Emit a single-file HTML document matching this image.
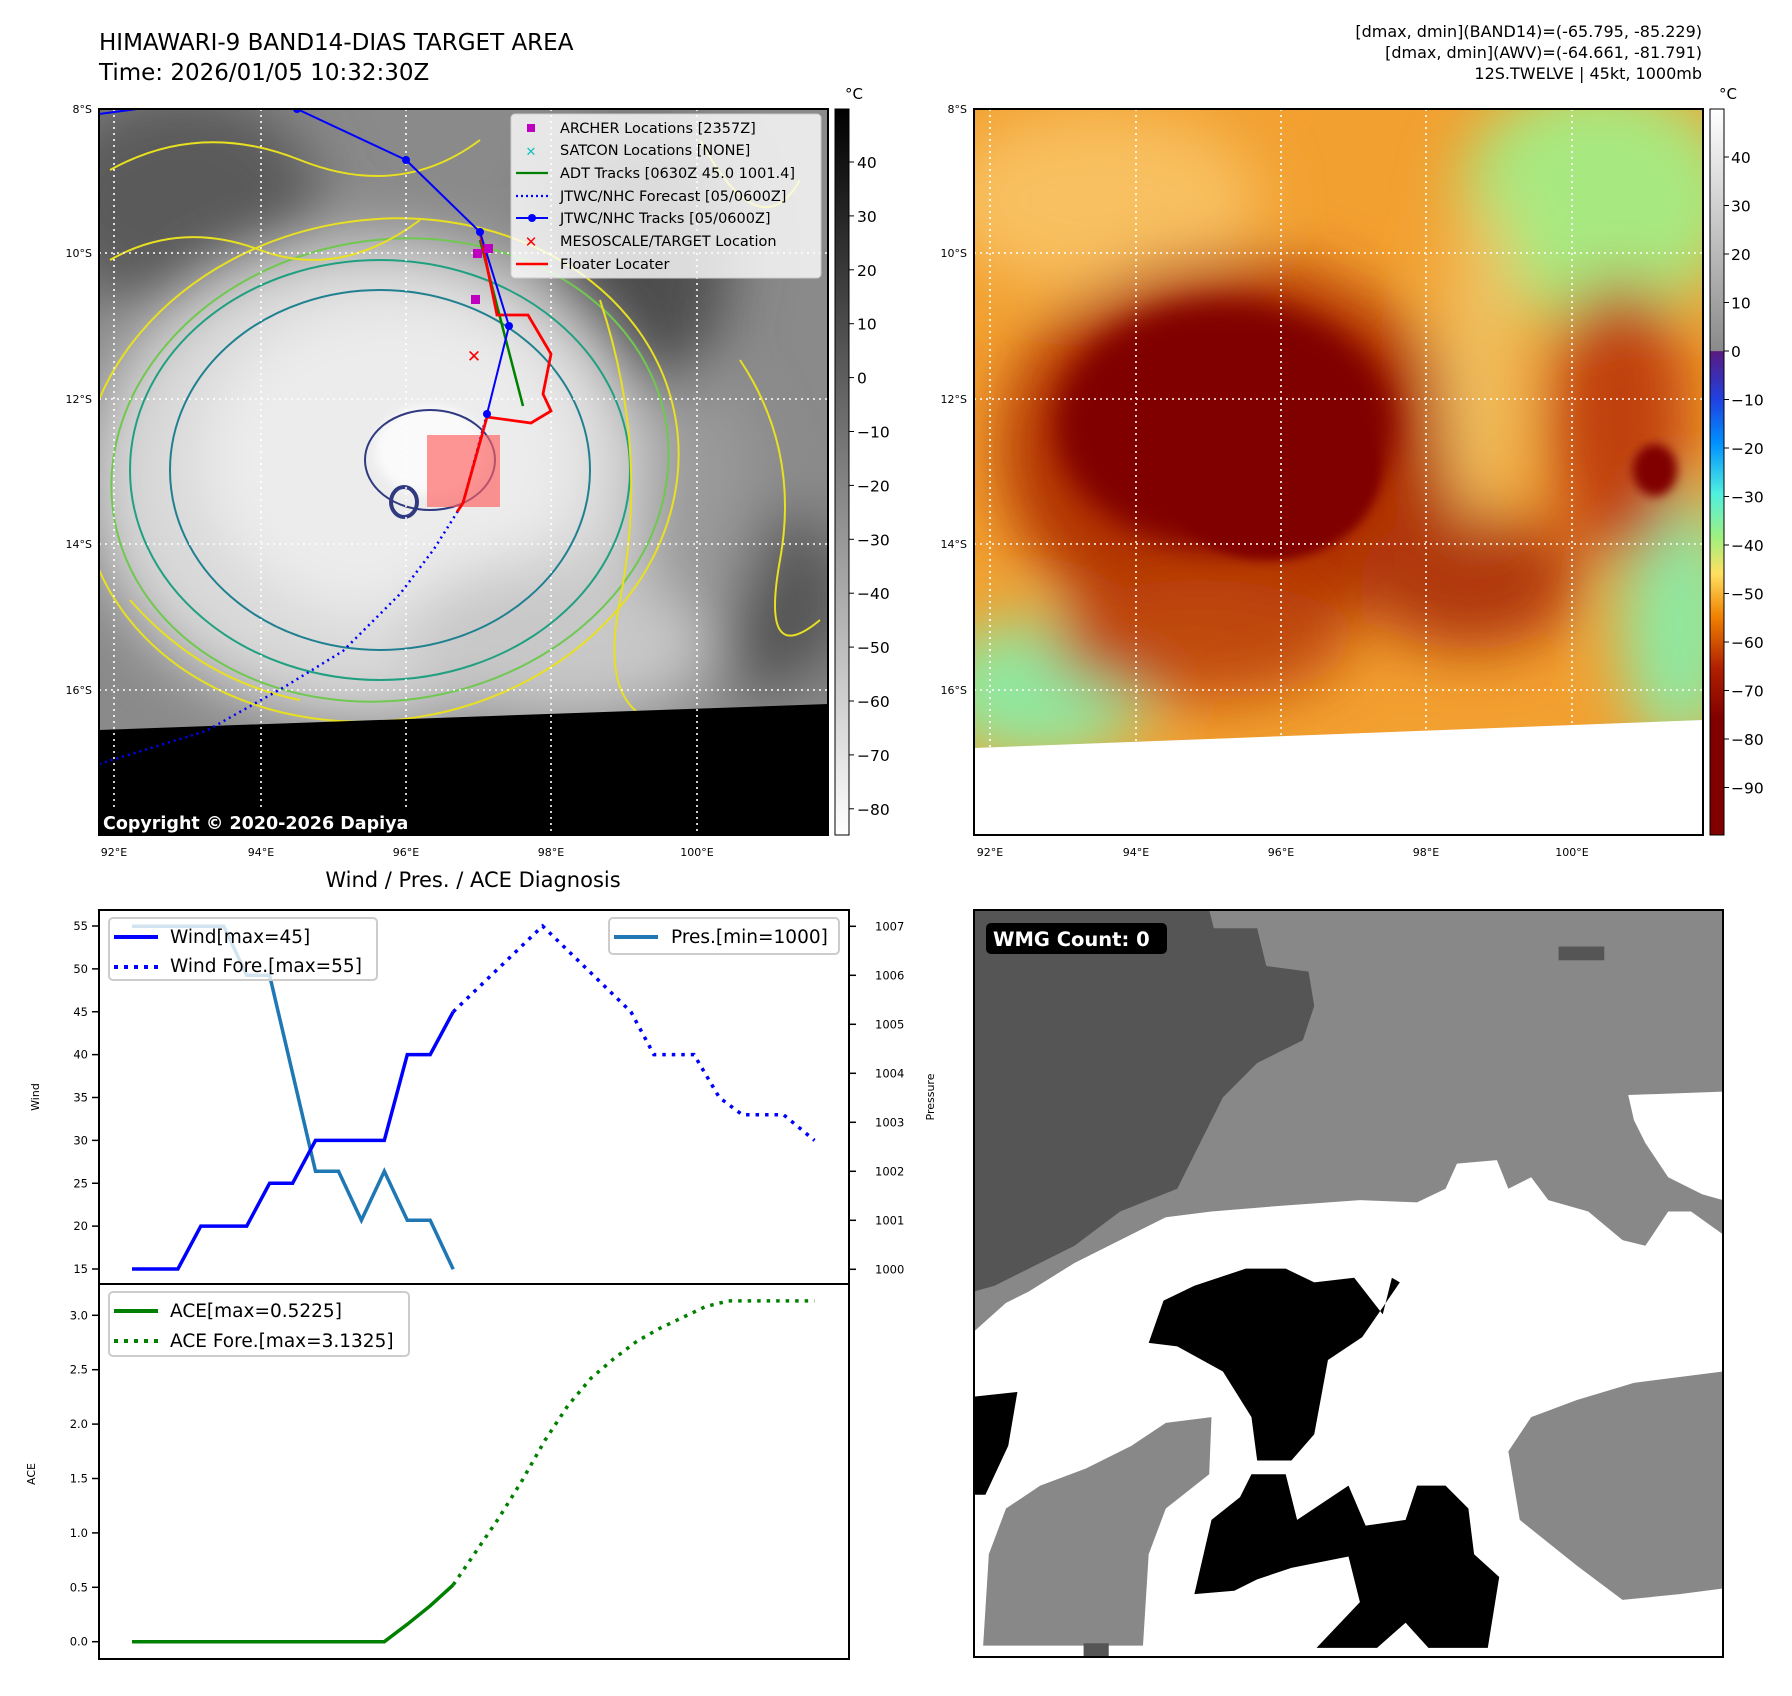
<!DOCTYPE html>
<html><head><meta charset="utf-8"><style>
html,body{margin:0;padding:0;background:#fff;}
svg{display:block;font-family:"DejaVu Sans","Liberation Sans",sans-serif;}
</style></head><body>
<svg id="root" width="1792" height="1696" viewBox="0 0 1792 1696" xmlns="http://www.w3.org/2000/svg">
<defs>
<filter id="bl30" x="-50%" y="-50%" width="200%" height="200%"><feGaussianBlur stdDeviation="30"/></filter>
<filter id="bl15" x="-50%" y="-50%" width="200%" height="200%"><feGaussianBlur stdDeviation="14"/></filter>
<filter id="bl6" x="-50%" y="-50%" width="200%" height="200%"><feGaussianBlur stdDeviation="5"/></filter>
<clipPath id="clipL"><rect x="99" y="109" width="729" height="726"/></clipPath>
<clipPath id="clipR"><rect x="974" y="109" width="729" height="726"/></clipPath>
<linearGradient id="cbL" x1="0" y1="0" x2="0" y2="1"><stop offset="0" stop-color="#000"/><stop offset="1" stop-color="#fff"/></linearGradient>
<linearGradient id="cbR" x1="0" y1="0" x2="0" y2="1">
<stop offset="0" stop-color="#ffffff"/><stop offset="0.333" stop-color="#8a8a8a"/>
<stop offset="0.334" stop-color="#5a1a80"/><stop offset="0.40" stop-color="#2040e0"/>
<stop offset="0.46" stop-color="#0090ff"/><stop offset="0.53" stop-color="#50f0e0"/>
<stop offset="0.59" stop-color="#a0f080"/><stop offset="0.64" stop-color="#ffe060"/>
<stop offset="0.70" stop-color="#f08000"/><stop offset="0.77" stop-color="#b02000"/>
<stop offset="0.84" stop-color="#800000"/><stop offset="1" stop-color="#800000"/></linearGradient>
</defs>

<text x="99" y="50" font-size="23" fill="#000">HIMAWARI-9 BAND14-DIAS TARGET AREA</text>
<text x="99" y="80" font-size="23" fill="#000">Time: 2026/01/05 10:32:30Z</text>
<g font-size="16" text-anchor="end" fill="#000">
<text x="1702" y="37">[dmax, dmin](BAND14)=(-65.795, -85.229)</text>
<text x="1702" y="58">[dmax, dmin](AWV)=(-64.661, -81.791)</text>
<text x="1702" y="79">12S.TWELVE | 45kt, 1000mb</text>
</g>

<g clip-path="url(#clipL)">
<rect x="99" y="109" width="729" height="726" fill="#8a8a8a"/>
<g filter="url(#bl30)">
<ellipse cx="180" cy="200" rx="140" ry="110" fill="#5a5a5a"/>
<ellipse cx="640" cy="260" rx="90" ry="130" fill="#4e4e4e"/>
<ellipse cx="760" cy="600" rx="90" ry="90" fill="#555"/>
<ellipse cx="370" cy="480" rx="280" ry="240" fill="#d8d8d8"/>
<ellipse cx="390" cy="460" rx="190" ry="160" fill="#ececec"/>
<ellipse cx="560" cy="640" rx="160" ry="80" fill="#c8c8c8"/>
<ellipse cx="700" cy="500" rx="60" ry="120" fill="#9a9a9a"/>
</g>
<ellipse cx="430" cy="450" rx="55" ry="45" fill="#fafafa" filter="url(#bl6)"/>
<g fill="none" stroke-width="2">
<ellipse cx="380" cy="470" rx="300" ry="250" stroke="#e8e020" transform="rotate(-10 380 470)"/>
<ellipse cx="390" cy="470" rx="280" ry="230" stroke="#70c850" transform="rotate(-10 390 470)"/>
<ellipse cx="380" cy="470" rx="250" ry="210" stroke="#20a080"/>
<ellipse cx="380" cy="470" rx="210" ry="180" stroke="#208090"/>
<ellipse cx="430" cy="460" rx="65" ry="50" stroke="#303a80"/>
<ellipse cx="404" cy="502" rx="13" ry="15" stroke="#303a80" stroke-width="4"/>
<path d="M110 170 Q200 120 300 160 T480 140" stroke="#e8e020"/>
<path d="M110 260 Q180 220 260 250 T420 220" stroke="#e8e020"/>
<path d="M600 300 Q650 450 620 600 T720 720" stroke="#e8e020"/>
<path d="M700 140 Q760 250 800 180" stroke="#e8e020"/>
<path d="M740 360 Q800 450 780 560 T820 620" stroke="#e8e020"/>
<path d="M130 600 Q200 680 300 700" stroke="#e8e020"/>
</g>
<polygon points="99,730 828,704 828,835 99,835" fill="#000"/>
<rect x="427" y="435" width="73" height="72" fill="#ff6060" opacity="0.65"/>
<g stroke="#fff" stroke-width="1.6" stroke-dasharray="2,4">
<line x1="114" y1="109" x2="114" y2="835"/><line x1="261" y1="109" x2="261" y2="835"/><line x1="406" y1="109" x2="406" y2="835"/><line x1="551" y1="109" x2="551" y2="835"/><line x1="697" y1="109" x2="697" y2="835"/>
<line x1="99" y1="253" x2="828" y2="253"/><line x1="99" y1="399" x2="828" y2="399"/><line x1="99" y1="544" x2="828" y2="544"/><line x1="99" y1="690" x2="828" y2="690"/>
</g>
<polyline points="487,414 463,503 434,549 400,594 343,651 286,686 206,731 99,764" fill="none" stroke="#0000ff" stroke-width="2.5" stroke-dasharray="2,4"/>
<polyline points="480,240 523,406" fill="none" stroke="#008000" stroke-width="2.5"/>
<polyline points="480,232 497,315 528,315 551,354 543,394 551,411 531,423 487,417 463,503 457,512" fill="none" stroke="#ff0000" stroke-width="2.8"/>
<polyline points="99,114 137,109 297,109 406,160 480,232 509,326 487,414" fill="none" stroke="#0000ff" stroke-width="2"/>
<g fill="#0000ff"><circle cx="297" cy="109" r="4"/><circle cx="406" cy="160" r="4"/><circle cx="480" cy="232" r="4"/><circle cx="509" cy="326" r="4"/><circle cx="487" cy="414" r="4"/></g>
<g fill="#c000c0"><rect x="473" y="249" width="9" height="9"/><rect x="484" y="244" width="9" height="9"/><rect x="471" y="295" width="9" height="9"/></g>
<text x="474" y="362" font-size="17" font-weight="bold" fill="#f00" text-anchor="middle">✕</text>
<rect x="99" y="809" width="310" height="26" fill="#000"/>
<text x="103" y="829" font-size="17.5" font-weight="bold" fill="#fff">Copyright © 2020-2026 Dapiya</text>
</g>
<rect x="99" y="109" width="729" height="726" fill="none" stroke="#000" stroke-width="2"/>

<g>
<rect x="511" y="114" width="310" height="164" rx="4" fill="#fff" fill-opacity="0.8" stroke="#ccc"/>
<g font-size="14.5" fill="#000">
<rect x="527" y="124" width="8" height="8" fill="#c000c0"/><text x="560" y="133">ARCHER Locations [2357Z]</text>
<text x="531" y="156" font-size="13" font-weight="bold" fill="#10c0c0" text-anchor="middle">✕</text><text x="560" y="155">SATCON Locations [NONE]</text>
<line x1="516" y1="173" x2="548" y2="173" stroke="#008000" stroke-width="2.2"/><text x="560" y="178">ADT Tracks [0630Z 45.0 1001.4]</text>
<line x1="516" y1="196" x2="548" y2="196" stroke="#0000ff" stroke-width="2.2" stroke-dasharray="2,3"/><text x="560" y="201">JTWC/NHC Forecast [05/0600Z]</text>
<line x1="516" y1="218" x2="548" y2="218" stroke="#0000ff" stroke-width="2"/><circle cx="532" cy="218" r="4" fill="#00f"/><text x="560" y="223">JTWC/NHC Tracks [05/0600Z]</text>
<text x="531" y="247" font-size="15" font-weight="bold" fill="#f00" text-anchor="middle">✕</text><text x="560" y="246">MESOSCALE/TARGET Location</text>
<line x1="516" y1="264" x2="548" y2="264" stroke="#f00" stroke-width="2.5"/><text x="560" y="269">Floater Locater</text>
</g></g>

<g font-size="11" fill="#000">
<text x="114" y="856" text-anchor="middle">92°E</text><text x="261" y="856" text-anchor="middle">94°E</text><text x="406" y="856" text-anchor="middle">96°E</text><text x="551" y="856" text-anchor="middle">98°E</text><text x="697" y="856" text-anchor="middle">100°E</text>
<text x="92" y="113" text-anchor="end">8°S</text><text x="92" y="257" text-anchor="end">10°S</text><text x="92" y="403" text-anchor="end">12°S</text><text x="92" y="548" text-anchor="end">14°S</text><text x="92" y="694" text-anchor="end">16°S</text>
</g>
<g>
<rect x="835" y="109" width="14" height="726" fill="url(#cbL)" stroke="#000" stroke-width="1"/>
<text x="845" y="99" font-size="15">°C</text>
<g font-size="15.5" id="cbLticks"></g>
</g>

<g clip-path="url(#clipR)">
<rect x="974" y="109" width="729" height="726" fill="#f2a030"/>
<g filter="url(#bl30)">
<ellipse cx="1100" cy="200" rx="160" ry="90" fill="#f8c060"/>
<ellipse cx="1600" cy="200" rx="140" ry="120" fill="#a8e880"/>
<ellipse cx="1040" cy="690" rx="110" ry="70" fill="#90e8a0"/>
<ellipse cx="1680" cy="620" rx="60" ry="130" fill="#90e8a0"/>
<ellipse cx="1620" cy="420" rx="70" ry="140" fill="#c04010"/>
<ellipse cx="1230" cy="450" rx="230" ry="190" fill="#b03000"/>
<ellipse cx="1470" cy="580" rx="110" ry="70" fill="#b03808"/>
<ellipse cx="1200" cy="640" rx="150" ry="60" fill="#c04a10"/>
<ellipse cx="1480" cy="360" rx="40" ry="160" fill="#f0c060"/>
</g>
<ellipse cx="1225" cy="425" rx="170" ry="125" fill="#800000" filter="url(#bl15)"/>
<ellipse cx="1270" cy="470" rx="110" ry="90" fill="#800000" filter="url(#bl6)"/>
<ellipse cx="1655" cy="470" rx="22" ry="26" fill="#800000" filter="url(#bl6)"/>
<polygon points="974,748 1703,720 1703,835 974,835" fill="#fff"/>
<g stroke="#fff" stroke-width="1.6" stroke-dasharray="2,4">
<line x1="990" y1="109" x2="990" y2="835"/><line x1="1136" y1="109" x2="1136" y2="835"/><line x1="1281" y1="109" x2="1281" y2="835"/><line x1="1426" y1="109" x2="1426" y2="835"/><line x1="1572" y1="109" x2="1572" y2="835"/>
<line x1="974" y1="253" x2="1703" y2="253"/><line x1="974" y1="399" x2="1703" y2="399"/><line x1="974" y1="544" x2="1703" y2="544"/><line x1="974" y1="690" x2="1703" y2="690"/>
</g>
</g>
<rect x="974" y="109" width="729" height="726" fill="none" stroke="#000" stroke-width="2"/>
<g font-size="11" fill="#000">
<text x="990" y="856" text-anchor="middle">92°E</text><text x="1136" y="856" text-anchor="middle">94°E</text><text x="1281" y="856" text-anchor="middle">96°E</text><text x="1426" y="856" text-anchor="middle">98°E</text><text x="1572" y="856" text-anchor="middle">100°E</text>
<text x="967" y="113" text-anchor="end">8°S</text><text x="967" y="257" text-anchor="end">10°S</text><text x="967" y="403" text-anchor="end">12°S</text><text x="967" y="548" text-anchor="end">14°S</text><text x="967" y="694" text-anchor="end">16°S</text>
</g>
<g>
<rect x="1710" y="109" width="14" height="726" fill="url(#cbR)" stroke="#000" stroke-width="1"/>
<text x="1719" y="99" font-size="15">°C</text>
<g font-size="15.5" id="cbRticks"></g>
</g>

<svg x="974" y="910" width="749" height="747" viewBox="852 796 656 654" preserveAspectRatio="none">
<rect x="852" y="796" width="656" height="654" fill="#888"/>
<polygon fill="#555" points="852,796 1058,796 1062,812 1100,812 1108,845 1145,850 1150,880 1140,910 1100,930 1070,960 1050,1000 1030,1040 980,1060 940,1090 900,1110 870,1125 852,1130"/>
<polygon fill="#fff" points="852,1165 880,1140 900,1130 940,1105 990,1080 1020,1065 1060,1060 1120,1055 1190,1050 1240,1052 1265,1040 1275,1018 1310,1015 1320,1040 1340,1030 1355,1050 1390,1060 1420,1085 1440,1090 1460,1060 1480,1060 1508,1080 1508,1200 1430,1210 1380,1225 1340,1240 1320,1270 1330,1330 1380,1370 1420,1400 1470,1395 1508,1390 1508,1450 852,1450"/>
<polygon fill="#fff" points="1425,958 1508,955 1508,1050 1490,1045 1460,1030 1440,1000 1430,980"/>
<polygon fill="#888" points="860,1440 865,1360 880,1320 910,1300 950,1285 990,1265 1020,1245 1060,1240 1058,1290 1020,1320 1005,1360 1000,1440"/>
<polygon fill="#000" points="1005,1175 1018,1138 1045,1125 1090,1110 1125,1110 1150,1122 1185,1118 1210,1150 1218,1118 1225,1122 1192,1170 1162,1190 1150,1255 1130,1278 1100,1278 1095,1240 1070,1200 1030,1178"/>
<polygon fill="#000" points="1045,1395 1060,1330 1085,1310 1095,1290 1125,1290 1135,1330 1180,1300 1195,1335 1230,1330 1240,1300 1265,1300 1285,1320 1290,1360 1312,1380 1302,1442 1250,1442 1230,1420 1205,1442 1152,1442 1190,1402 1180,1362 1130,1372 1100,1382 1080,1392"/>
<polygon fill="#000" points="852,1222 890,1218 882,1265 862,1308 852,1308"/>
<rect x="1364" y="828" width="40" height="12" fill="#555"/>
<rect x="948" y="1438" width="22" height="12" fill="#555"/>
</svg>
<rect x="974" y="910" width="749" height="747" fill="none" stroke="#000" stroke-width="2"/>
<rect x="986" y="923" width="181" height="31" rx="5" fill="#000"/>
<text x="993" y="946" font-size="19.5" font-weight="bold" fill="#fff">WMG Count: 0</text>

<text x="473" y="887" font-size="21" text-anchor="middle" fill="#000">Wind / Pres. / ACE Diagnosis</text>
<g id="chart"></g>
<rect x="99" y="910" width="750" height="749" fill="none" stroke="#000" stroke-width="2"/>
<line x1="99" y1="1284" x2="849" y2="1284" stroke="#000" stroke-width="2"/>
<text transform="translate(39,1097) rotate(-90)" font-size="11" text-anchor="middle">Wind</text>
<text transform="translate(934,1097) rotate(-90)" font-size="11" text-anchor="middle">Pressure</text>
<text transform="translate(35,1474) rotate(-90)" font-size="11" text-anchor="middle">ACE</text>

<g>
<rect x="109" y="918" width="268" height="62" rx="4" fill="#fff" fill-opacity="0.8" stroke="#ccc" stroke-width="2"/>
<line x1="114" y1="937" x2="158" y2="937" stroke="#00f" stroke-width="4"/>
<line x1="114" y1="967" x2="158" y2="967" stroke="#00f" stroke-width="4" stroke-dasharray="4,6"/>
<text x="170" y="943" font-size="18.5">Wind[max=45]</text>
<text x="170" y="972" font-size="18.5">Wind Fore.[max=55]</text>
</g>
<g>
<rect x="609" y="918" width="230" height="36" rx="4" fill="#fff" fill-opacity="0.8" stroke="#ccc" stroke-width="2"/>
<line x1="614" y1="937" x2="658" y2="937" stroke="#1f77b4" stroke-width="4"/>
<text x="671" y="943" font-size="18.5">Pres.[min=1000]</text>
</g>
<g>
<rect x="109" y="1292" width="300" height="64" rx="4" fill="#fff" fill-opacity="0.8" stroke="#ccc" stroke-width="2"/>
<line x1="114" y1="1311" x2="158" y2="1311" stroke="#008000" stroke-width="4"/>
<line x1="114" y1="1341" x2="158" y2="1341" stroke="#008000" stroke-width="4" stroke-dasharray="4,6"/>
<text x="170" y="1317" font-size="18.5">ACE[max=0.5225]</text>
<text x="170" y="1347" font-size="18.5">ACE Fore.[max=3.1325]</text>
</g>
</svg>
<script>
const obsT = [0,1,2,3,4,5,6,7,8,9,10,11,12,13,14];
const windObs = [15,15,15,20,20,20,25,25,30,30,30,30,40,40,45];
const presObs = [1007,1007,1007,1007,1007,1006,1006,1004,1002,1002,1001,1002,1001,1001,1000];
const aceObs = [0,0,0,0,0,0,0,0,0,0,0,0,0.16,0.33,0.5225];
const fcT = [14,17.9,21.75,22.75,24.5,25.6,26.6,28.4,29.75];
const windFc = [45,55,45,40,40,35,33,33,30];
const aceFcT = [14,15,16,17,18,19,20,21,22,23,24,25,26,29.75];
const aceFc = [0.5225,0.83,1.14,1.48,1.85,2.17,2.42,2.6,2.76,2.88,2.98,3.08,3.1325,3.1325];
const windTicks = [15,20,25,30,35,40,45,50,55];
const presTicks = [1000,1001,1002,1003,1004,1005,1006,1007];
const aceTicks = [0.0,0.5,1.0,1.5,2.0,2.5,3.0];
const cbLTicks = [40,30,20,10,0,-10,-20,-30,-40,-50,-60,-70,-80];
const cbRTicks = [40,30,20,10,0,-10,-20,-30,-40,-50,-60,-70,-80,-90];

const NS='http://www.w3.org/2000/svg';
const xOf = t => 132 + t*22.94;
const yW = v => 926 + (55-v)*8.575;
const yP = p => 926.3 + (1007-p)*49;
const yA = a => 1641.7 - a*108.8;
const yCL = c => 162 + (40-c)*5.39;
const yCR = c => 157 + (40-c)*4.85;
const chart = document.getElementById('chart');
function mk(tag, attrs, parent){const e=document.createElementNS(NS,tag);for(const k in attrs)e.setAttribute(k,attrs[k]);(parent||chart).appendChild(e);return e;}
function pts(ts, vs, fy){return ts.map((t,i)=>xOf(t).toFixed(1)+','+fy(vs[i]).toFixed(1)).join(' ');}

let e;
e = mk('polyline',{points:pts(obsT,presObs,yP),fill:'none',stroke:'#1f77b4','stroke-width':3.5});


e = mk('polyline',{points:pts(obsT,windObs,yW),fill:'none',stroke:'#0000ff','stroke-width':3.5});


e = mk('polyline',{points:pts(fcT,windFc,yW),fill:'none',stroke:'#0000ff','stroke-width':3.5,'stroke-dasharray':'3.5,6'});


e = mk('polyline',{points:pts(obsT,aceObs,yA),fill:'none',stroke:'#008000','stroke-width':3.5});


e = mk('polyline',{points:pts(aceFcT,aceFc,yA),fill:'none',stroke:'#008000','stroke-width':3.5,'stroke-dasharray':'3.5,6'});



windTicks.forEach(v=>{
  const y=yW(v);
  mk('line',{x1:92,y1:y,x2:99,y2:y,stroke:'#000','stroke-width':1.5});
  const t=mk('text',{x:88,y:y+4,'font-size':11.5,'text-anchor':'end'}); t.textContent=v;
  
  
});
presTicks.forEach(v=>{
  const y=yP(v);
  mk('line',{x1:849,y1:y,x2:856,y2:y,stroke:'#000','stroke-width':1.5});
  const t=mk('text',{x:875,y:y+4,'font-size':11.5}); t.textContent=v;
  
  
});
aceTicks.forEach(v=>{
  const y=yA(v);
  mk('line',{x1:92,y1:y,x2:99,y2:y,stroke:'#000','stroke-width':1.5});
  const t=mk('text',{x:88,y:y+4,'font-size':11.5,'text-anchor':'end'}); t.textContent=v.toFixed(1);
  
  
});
const gL=document.getElementById('cbLticks');
cbLTicks.forEach(v=>{
  const y=yCL(v);
  mk('line',{x1:849,y1:y,x2:854,y2:y,stroke:'#000'},gL);
  const t=mk('text',{x:857,y:y+6},gL); t.textContent=v<0?'\u2212'+(-v):v;
  
  
});
const gR=document.getElementById('cbRticks');
cbRTicks.forEach(v=>{
  const y=yCR(v);
  mk('line',{x1:1724,y1:y,x2:1729,y2:y,stroke:'#000'},gR);
  const t=mk('text',{x:1731,y:y+6},gR); t.textContent=v<0?'\u2212'+(-v):v;
  
  
});
</script>
</body></html>
